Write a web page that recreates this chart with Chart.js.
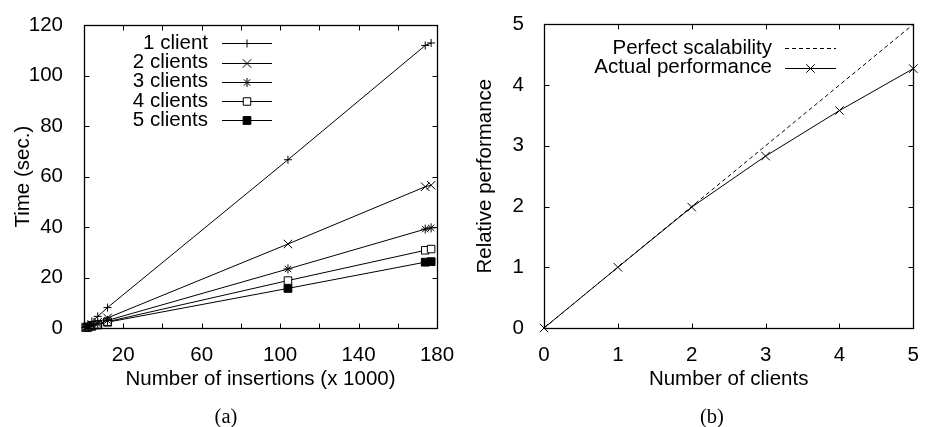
<!DOCTYPE html>
<html><head><meta charset="utf-8">
<script src="https://cdn.jsdelivr.net/npm/chart.js@4/dist/chart.umd.min.js"></script>
<style>
html,body{margin:0;padding:0;background:#fff;}
#wrap{position:relative;width:926px;height:427px;overflow:hidden;background:#fff;}
.pane{position:absolute;top:0;width:463px;height:427px;}
.pane canvas{display:block;}
.cap{position:absolute;font-family:"Liberation Serif","Times New Roman",serif;font-size:20.5px;color:#000;transform:translate(-50%,-50%);white-space:nowrap;line-height:1;}
</style></head><body>
<div id="wrap">
<div class="pane" style="left:0"><canvas id="c1" width="463" height="427" style="width:463px;height:427px"></canvas></div>
<div class="pane" style="left:463px"><canvas id="c2" width="463" height="427" style="width:463px;height:427px"></canvas></div>
<div class="cap" style="left:226px;top:416px">(a)</div>
<div class="cap" style="left:712px;top:416px">(b)</div>
</div>
<script>
// ---- data (a) ----
const insertions = [1, 2, 4, 7, 12, 104, 174, 177];
const client1 = [0.6, 1.3, 2.6, 4.6, 8.1, 66.7, 112.0, 113.0];
const client2 = [0.3, 0.7, 1.3, 2.3, 4.0, 33.3, 56.0, 56.6];
const client3 = [0.2, 0.5, 0.9, 1.6, 3.0, 23.4, 39.2, 39.7];
const client4 = [0.2, 0.4, 0.8, 1.4, 2.5, 18.8, 30.8, 31.3];
const client5 = [0.2, 0.3, 0.7, 1.2, 2.3, 15.7, 26.1, 26.3];
const seriesLabelsA = ['1 client', '2 clients', '3 clients', '4 clients', '5 clients'];
const xTicksA = [20, 60, 100, 140, 180];
// ---- data (b) ----
const numClients = [0, 1, 2, 3, 4, 5];
const perfect = [0, 1, 2, 3, 4, 5];
const actual = [0, 1.0, 1.99, 2.83, 3.58, 4.27];
const seriesLabelsB = ['Perfect scalability', 'Actual performance'];

const FONT = "'Liberation Sans', Arial, Helvetica, sans-serif";
const FS = 20.5;
Chart.defaults.font.family = FONT;
Chart.defaults.font.size = FS;
Chart.defaults.color = '#000';

function pts(xs, ys){ return xs.map((x,i)=>({x:x, y:ys[i]})); }

function drawMarker(ctx, style, r, x, y, fill){
  ctx.save();
  ctx.lineWidth = 1; ctx.strokeStyle = '#000'; ctx.fillStyle = fill || '#000';
  ctx.beginPath();
  const d = r * Math.SQRT1_2;
  if (style === 'cross' || style === 'star'){
    ctx.moveTo(x - r, y); ctx.lineTo(x + r, y);
    ctx.moveTo(x, y - r); ctx.lineTo(x, y + r);
  }
  if (style === 'crossRot' || style === 'star'){
    ctx.moveTo(x - d, y - d); ctx.lineTo(x + d, y + d);
    ctx.moveTo(x - d, y + d); ctx.lineTo(x + d, y - d);
  }
  if (style === 'rect'){
    ctx.rect(x - d, y - d, 2*d, 2*d);
    ctx.fill();
  }
  ctx.stroke();
  ctx.restore();
}

const framePlugin = {
  id: 'frame',
  afterDatasetsDraw(chart, args, opts){
    const ctx = chart.ctx, a = chart.chartArea;
    const L = Math.round(a.left)+0.5, R = Math.round(a.right)+0.5, T = Math.round(a.top)+0.5, B = Math.round(a.bottom)+0.5;
    ctx.save();
    ctx.strokeStyle = '#000'; ctx.lineWidth = 1;
    ctx.beginPath();
    const tl = 5;
    const xs = chart.scales.x, ys = chart.scales.y;
    xs.ticks.forEach(t => {
      const p = Math.round(xs.getPixelForValue(t.value)) + 0.5;
      ctx.moveTo(p, B); ctx.lineTo(p, B - tl);
      ctx.moveTo(p, T); ctx.lineTo(p, T + tl);
    });
    ys.ticks.forEach(t => {
      const p = Math.round(ys.getPixelForValue(t.value)) + 0.5;
      ctx.moveTo(L, p); ctx.lineTo(L + tl, p);
      ctx.moveTo(R, p); ctx.lineTo(R - tl, p);
    });
    ctx.stroke();
    ctx.lineWidth = 1.3;
    ctx.strokeRect(L, T, R - L, B - T);
    ctx.restore();
  }
};

const keyPlugin = {
  id: 'key',
  afterDraw(chart, args, opts){
    const ctx = chart.ctx;
    ctx.save();
    ctx.font = FS + 'px ' + FONT;
    ctx.fillStyle = '#000';
    ctx.textAlign = 'right';
    ctx.textBaseline = 'middle';
    chart.data.datasets.forEach((ds, i) => {
      const y = opts.rows[i];
      ctx.fillText(ds.label, opts.textX, y);
      ctx.save();
      ctx.strokeStyle = ds.borderColor; ctx.lineWidth = 1;
      ctx.setLineDash(ds.borderDash || []);
      ctx.beginPath();
      ctx.moveTo(opts.x0, Math.round(y)+0.5); ctx.lineTo(opts.x1, Math.round(y)+0.5);
      ctx.stroke();
      ctx.restore();
      if (ds.pointRadius > 0){
        drawMarker(ctx, ds.pointStyle, ds.pointRadius, (opts.x0+opts.x1)/2, Math.round(y)+0.5, ds.pointBackgroundColor);
      }
    });
    ctx.restore();
  }
};

function ds(label, xs, ys, style, r, fill, dash){
  return {
    label: label, data: pts(xs, ys), showLine: true,
    borderColor: '#000', borderWidth: 1, borderDash: dash || [],
    pointStyle: style, pointRadius: r, pointBorderWidth: 1,
    pointBorderColor: '#000', pointBackgroundColor: fill || '#000',
    pointHoverRadius: r, clip: false, tension: 0
  };
}

function axis(min, max, step, cb, title, isX, fitSize, tickPad, titlePad){
  return {
    type: 'linear', min: min, max: max,
    grid: { display: false }, border: { display: false },
    ticks: { stepSize: step, autoSkip: false, maxRotation: 0, padding: tickPad, color: '#000',
             font: { size: FS, family: FONT }, callback: cb },
    title: { display: true, text: title, color: '#000', font: { size: FS, family: FONT }, padding: titlePad },
    afterFit: s => { if (isX) s.height = fitSize; else s.width = fitSize; }
  };
}

new Chart(document.getElementById('c1'), {
  type: 'scatter',
  data: { datasets: [
    ds(seriesLabelsA[0], insertions, client1, 'cross', 4),
    ds(seriesLabelsA[1], insertions, client2, 'crossRot', 6),
    ds(seriesLabelsA[2], insertions, client3, 'star', 4.5),
    ds(seriesLabelsA[3], insertions, client4, 'rect', 5.3, '#fff'),
    ds(seriesLabelsA[4], insertions, client5, 'rect', 5.5, '#000')
  ]},
  options: {
    responsive: false, animation: false, events: [],
    layout: { padding: { top: 17, right: 26, left: 0, bottom: 0 } },
    plugins: { legend: { display: false }, tooltip: { enabled: false },
      key: { textX: 208, x0: 222, x1: 272, rows: [43.3, 62.6, 81.8, 101, 120.2] } },
    scales: {
      x: axis(0, 180, 20, v => (xTicksA.includes(v) ? String(v) : ''), 'Number of insertions (x 1000)', true, 99, 7, { top: 0, bottom: 35 }),
      y: axis(0, 120, 20, v => String(v), 'Time (sec.)', false, 84, 13, { top: 11, bottom: 0 })
    }
  },
  plugins: [framePlugin, keyPlugin]
});

new Chart(document.getElementById('c2'), {
  type: 'scatter',
  data: { datasets: [
    ds(seriesLabelsB[0], numClients, perfect, 'cross', 0, '#000', [4, 3]),
    ds(seriesLabelsB[1], numClients, actual, 'crossRot', 6)
  ]},
  options: {
    responsive: false, animation: false, events: [],
    layout: { padding: { top: 17, right: 5, left: 0, bottom: 0 } },
    plugins: { legend: { display: false }, tooltip: { enabled: false },
      key: { textX: 309, x0: 322, x1: 373, rows: [48.3, 67.7] } },
    scales: {
      x: axis(0, 5, 1, v => String(v), 'Number of clients', true, 99, 7, { top: 0, bottom: 35 }),
      y: axis(0, 5, 1, v => String(v), 'Relative performance', false, 81, 12, { top: 10, bottom: 0 })
    }
  },
  plugins: [framePlugin, keyPlugin]
});
</script>
</body></html>
